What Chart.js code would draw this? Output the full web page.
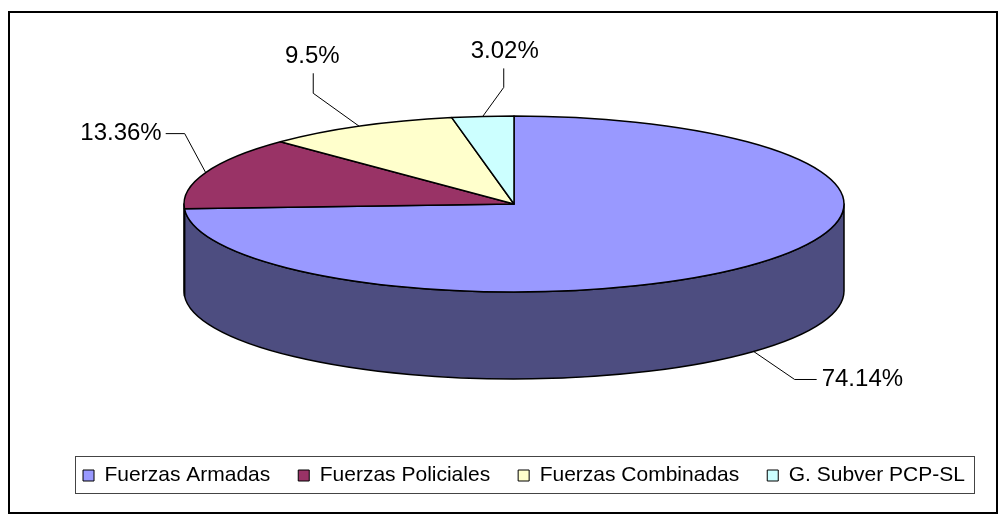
<!DOCTYPE html>
<html>
<head>
<meta charset="utf-8">
<script src="https://cdn.jsdelivr.net/npm/chart.js@4"></script>
<style>body{margin:0;background:#fff}</style>
</head>
<body>
<canvas id="chart" width="1004" height="521"></canvas>
<script>
const categories = ['Fuerzas Armadas', 'Fuerzas Policiales', 'Fuerzas Combinadas', 'G. Subver PCP-SL'];
const shares = [74.14, 13.36, 9.5, 3.02];
const topColors = ['#9999ff', '#993366', '#ffffcc', '#ccffff'];
const sideColors = ['#4d4d80', '#4d1933', '#808066', '#668080'];

const FONT = '"Liberation Sans", Arial, sans-serif';

// ellipse of the pie top and the height of its side wall
const pie = { cx: 514, cy: 204, rx: 330, ry: 88, depth: 87 };

// leader lines: offsets from the slice's edge point
const labelLayout = [
  { elbow: [41, 28], end: [63, 28], text: [68, 28], align: 'left' },
  { elbow: [-21, -39], end: [-40, -39], text: [-44, -39], align: 'right' },
  { elbow: [-46, -33], end: [-46, -53], text: [-47, -70], align: 'center' },
  { elbow: [21, -29], end: [21, -48], text: [22, -65], align: 'center' },
];

function wedge(ctx, x, y, a1, a2) {
  ctx.beginPath();
  ctx.moveTo(x, y);
  ctx.ellipse(x, y, pie.rx, pie.ry, 0, a1, a2);
  ctx.closePath();
}

const pie3d = {
  id: 'pie3d',
  beforeDatasetsDraw(chart) {
    const ctx = chart.ctx;
    const arcs = chart.getDatasetMeta(0).data;
    const { cx, cy, rx, ry, depth } = pie;
    ctx.save();
    ctx.lineWidth = 1.5;
    ctx.strokeStyle = '#000';
    ctx.lineJoin = 'round';

    // side wall, only the front half (0..PI) shows
    arcs.forEach((arc, i) => {
      const a1 = Math.max(arc.startAngle, 0);
      const a2 = Math.min(arc.endAngle, Math.PI);
      if (a2 <= a1) return;
      ctx.beginPath();
      ctx.ellipse(cx, cy, rx, ry, 0, a1, a2);
      ctx.lineTo(cx + rx * Math.cos(a2), cy + depth + ry * Math.sin(a2));
      ctx.ellipse(cx, cy + depth, rx, ry, 0, a2, a1, true);
      ctx.closePath();
      ctx.fillStyle = sideColors[i];
      ctx.fill();
      ctx.stroke();
    });

    // top face
    arcs.forEach((arc, i) => {
      wedge(ctx, cx, cy, arc.startAngle, arc.endAngle);
      ctx.fillStyle = topColors[i];
      ctx.fill();
      ctx.stroke();
    });
    ctx.restore();
    return false;
  },
  afterDraw(chart) {
    const ctx = chart.ctx;
    const arcs = chart.getDatasetMeta(0).data;
    const { cx, cy, rx, ry, depth } = pie;
    ctx.save();

    // percentage labels with leader lines
    ctx.font = '24px ' + FONT;
    ctx.textBaseline = 'middle';
    arcs.forEach((arc, i) => {
      const mid = (arc.startAngle + arc.endAngle) / 2;
      const s = Math.sin(mid);
      const ax = cx + rx * Math.cos(mid);
      const ay = cy + ry * s + (s > 0 ? depth : 0);
      const L = labelLayout[i];
      ctx.beginPath();
      ctx.moveTo(ax, ay);
      ctx.lineTo(ax + L.elbow[0], ay + L.elbow[1]);
      ctx.lineTo(ax + L.end[0], ay + L.end[1]);
      ctx.strokeStyle = '#000';
      ctx.lineWidth = 1;
      ctx.stroke();
      ctx.fillStyle = '#000';
      ctx.textAlign = L.align;
      ctx.fillText(shares[i] + '%', ax + L.text[0], ay + L.text[1]);
    });

    // box round the legend
    const boxes = chart.legend.legendHitBoxes;
    if (boxes.length) {
      const first = boxes[0], last = boxes[boxes.length - 1];
      const left = first.left - 8, right = last.left + last.width + 9;
      const top = first.top - 9, bottom = first.top + first.height + 7;
      ctx.strokeStyle = '#444';
      ctx.lineWidth = 1;
      ctx.strokeRect(Math.round(left) + 0.5, Math.round(top) + 0.5, Math.round(right - left), Math.round(bottom - top));
    }

    // chart frame
    ctx.strokeStyle = '#000';
    ctx.lineWidth = 2;
    ctx.strokeRect(9, 12, 988, 501);
    ctx.restore();
  }
};

new Chart(document.getElementById('chart'), {
  type: 'pie',
  data: {
    labels: categories,
    datasets: [{
      data: shares,
      backgroundColor: topColors,
      borderColor: '#000',
      borderWidth: 1,
    }],
  },
  options: {
    responsive: false,
    animation: false,
    devicePixelRatio: 1,
    layout: { padding: { left: 44, right: 0, top: 0, bottom: 25 } },
    plugins: {
      tooltip: { enabled: false },
      legend: {
        position: 'bottom',
        labels: { font: { family: FONT, size: 21 }, color: '#000', boxWidth: 11, boxHeight: 11, padding: 28 },
      },
    },
  },
  plugins: [pie3d],
});
</script>
</body>
</html>
